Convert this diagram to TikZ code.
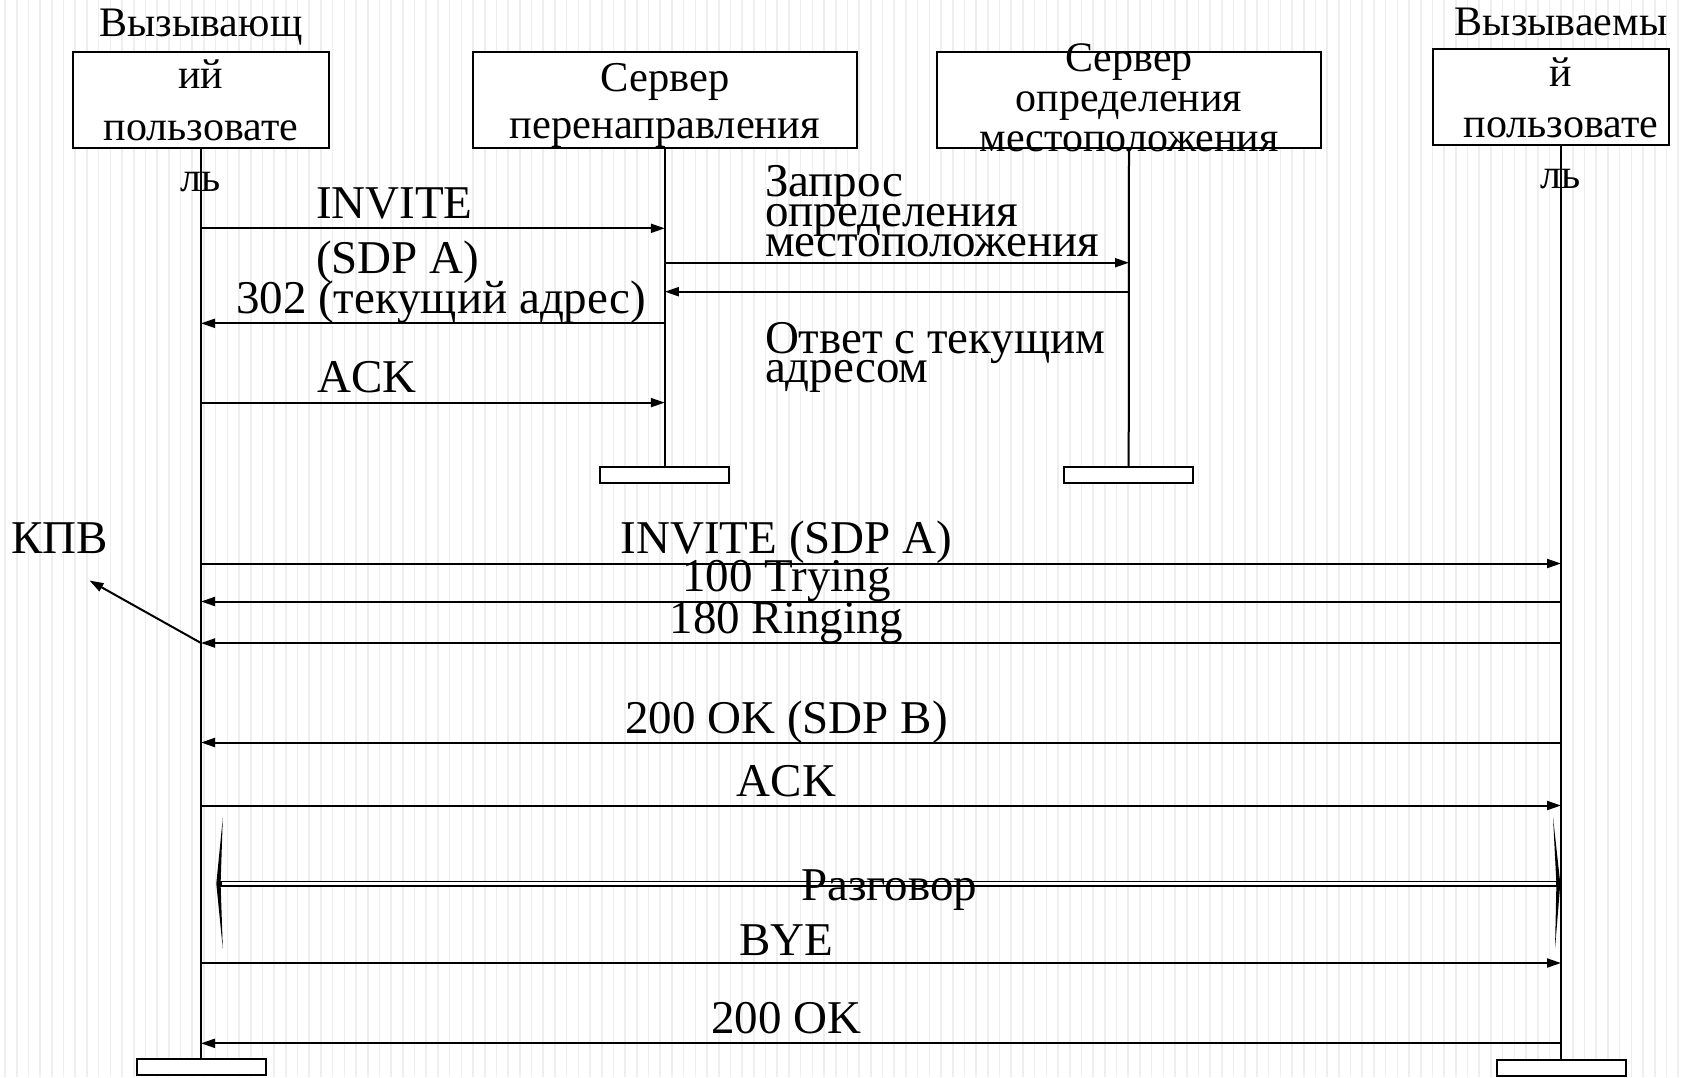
\documentclass[tikz,border=0pt]{standalone}
\usepackage{fontspec}
\setmainfont{Liberation Serif}
\usetikzlibrary{arrows.meta}
\begin{document}
\begin{tikzpicture}[x=1pt,y=-1pt,
  every node/.style={inner sep=0pt, outer sep=0pt},
  actor/.style={draw, fill=white, line width=2pt, minimum height=96pt},
  endbar/.style={draw, fill=white, line width=2pt, minimum width=129pt, minimum height=16pt},
  life/.style={line width=2pt},
  msg/.style={line width=2pt, -{Triangle[length=14pt,width=9pt]}},
  big/.style={font=\fontsize{47}{47}\selectfont},
  boxtxt/.style={align=center},
  stripe/.style={gray!13, line width=1.6pt},
]
\useasboundingbox (0,0) rectangle (1688,1077);
\fill[white] (0,0) rectangle (1688,1077);
\foreach \i in {0,...,144} \draw[stripe] ({\i*11.7+5},0) -- ({\i*11.7+5},1077);

% participants
\node[actor, minimum width=256pt] (A) at (201,99.7) {};
\node[actor, minimum width=384pt] (R) at (664.8,99.7) {};
\node[actor, minimum width=384pt] (L) at (1129,99.7) {};
\node[actor, minimum width=236pt] (B) at (1550.7,97) {};

% end bars
\node[endbar] (Aend) at (201,1067) {};
\node[endbar] (Bend) at (1561,1067.5) {};
\node[endbar] (Rend) at (664.8,475) {};
\node[endbar] (Lend) at (1128.7,475) {};

% lifelines
\draw[life] (A.south) -- (Aend.north);
\draw[life] (R.south) -- (Rend.north);
\draw[life] (L.south) -- (Lend.north);
\draw[life] (Bend.north |- B.south) -- (Bend.north);

% participant labels (anchor = baseline of last line)
\node[boxtxt, font={\fontsize{42}{51.7}\selectfont}, anchor=base] (Atxt) at (201,191.7) {Вызывающ\\ий\\пользовате\\ль};
\node[boxtxt, font={\fontsize{42}{51}\selectfont}, anchor=base] (Btxt) at (1561,188) {Вызываемы\\й\\пользовате\\ль};
\node[boxtxt, font={\fontsize{42.5}{47.5}\selectfont}, anchor=base] (Rtxt) at (664.8,138.5) {Сервер\\перенаправления};
\node[boxtxt, font={\fontsize{42}{40}\selectfont\lineskiplimit=-50pt}, anchor=base] (Ltxt) at (1129,151.5) {Сервер\\определения\\местоположения};

% upper messages
\draw[msg] (A.south |- 0,228.3) -- (R.south |- 0,228.3);
\node[big, align=left, font={\fontsize{47}{55}\selectfont}, anchor=base west] (m1) at (316,273.3) {INVITE\\(SDP A)};
\draw[msg] (R.south |- 0,262.7) -- (L.south |- 0,262.7);
\node[big, align=left, font={\fontsize{47}{30}\selectfont\lineskiplimit=-50pt}, anchor=base west] (m2) at (765,256.5) {Запрос\\определения\\местоположения};
\draw[msg] (L.south |- 0,291.7) -- (R.south |- 0,291.7);
\node[big, align=left, font={\fontsize{47}{29}\selectfont\lineskiplimit=-50pt}, anchor=base west] (m3) at (765,382) {Ответ с текущим\\адресом};
\draw[msg] (R.south |- 0,323.3) -- (A.south |- 0,323.3);
\node[big, anchor=base west] (m4) at (236,313.5) {302 (текущий адрес)};
\draw[msg] (A.south |- 0,402.6) -- (R.south |- 0,402.6);
\node[big, anchor=base west] (m5) at (317.6,392) {ACK};

% lower messages
\draw[msg] (A.south |- 0,563.5) -- (Bend.north |- 0,563.5);
\node[big, anchor=base] (m6) at (786.5,553.5) {INVITE (SDP A)};
\draw[msg] (Bend.north |- 0,601.5) -- (A.south |- 0,601.5);
\node[big, anchor=base] (m7) at (786.5,591.7) {100 Trying};
\draw[msg] (Bend.north |- 0,643) -- (A.south |- 0,643);
\node[big, anchor=base] (m8) at (786.5,633.3) {180 Ringing};
\node[big, anchor=base west] (kpv) at (11.5,553.3) {КПВ};
\coordinate (kpvtip) at (89.5,580.5);
\draw[msg] (A.south |- 0,643) -- (kpvtip);
\draw[msg] (Bend.north |- 0,742.5) -- (A.south |- 0,742.5);
\node[big, anchor=base] (m9) at (786.5,733.3) {200 OK (SDP B)};
\draw[msg] (A.south |- 0,805.5) -- (Bend.north |- 0,805.5);
\node[big, anchor=base] (m10) at (786.5,796.7) {ACK};

% conversation (double arrow)
\draw[line width=1.5pt, fill=white] (221,881.6) rectangle (1556.5,885.8);
\fill[black] (222.8,818) -- (216.3,883.7) -- (222.8,948.5) -- (220.6,883.7) -- cycle;
\fill[black] (1553,817) -- (1560.3,883.7) -- (1555,948.5) -- (1556.4,883.7) -- cycle;
\node[big, anchor=base west] (m11) at (801,900) {Разговор};

\draw[msg] (A.south |- 0,963) -- (Bend.north |- 0,963);
\node[big, anchor=base] (m12) at (786.5,955) {BYE};
\draw[msg] (Bend.north |- 0,1043.3) -- (A.south |- 0,1043.3);
\node[big, anchor=base] (m13) at (786.5,1033.5) {200 OK};
\end{tikzpicture}
\end{document}
